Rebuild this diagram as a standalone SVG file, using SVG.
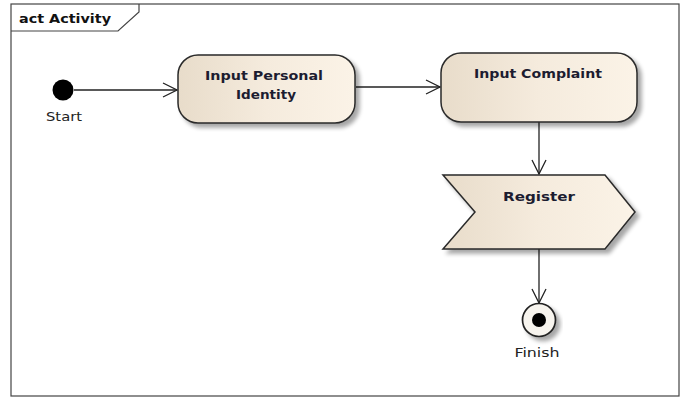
<svg xmlns="http://www.w3.org/2000/svg" width="685" height="402" viewBox="0 0 685 402">
<defs>
<linearGradient id="g" x1="0" y1="0" x2="1" y2="0">
<stop offset="0" stop-color="#e8dcca"/>
<stop offset="0.5" stop-color="#f5ebdd"/>
<stop offset="1" stop-color="#fbf3e7"/>
</linearGradient>
<filter id="sh" x="-10%" y="-10%" width="130%" height="140%">
<feGaussianBlur in="SourceAlpha" stdDeviation="2"/>
<feOffset dx="4" dy="4" result="b"/>
<feComponentTransfer><feFuncA type="linear" slope="0.35"/></feComponentTransfer>
<feMerge><feMergeNode/><feMergeNode in="SourceGraphic"/></feMerge>
</filter>
<marker id="arr" viewBox="0 0 16 16" refX="15" refY="8" markerWidth="16" markerHeight="16" markerUnits="userSpaceOnUse" orient="auto">
<path d="M1,1 L15,8 L1,15" fill="none" stroke="#222" stroke-width="1.3"/>
</marker>
</defs>
<style>
.t{font-family:"DejaVu Sans","Liberation Sans",sans-serif;font-weight:bold;font-size:13px;fill:#1c1c30;text-anchor:middle}
.l{font-family:"DejaVu Sans","Liberation Sans",sans-serif;font-size:13px;fill:#222;text-anchor:middle}
.n{fill:url(#g);stroke:#2a2a2a;stroke-width:1.5;filter:url(#sh)}
.c{stroke:#222;stroke-width:1.3;fill:none;marker-end:url(#arr)}
</style>
<rect width="685" height="402" fill="#fff"/>
<g id="frame">
<rect x="11" y="4" width="668" height="392" fill="#fff" stroke="#444" stroke-width="1.2"/>
<path d="M11,31 L118,31 L139,12 L139,4" fill="none" stroke="#444" stroke-width="1.2"/>
<text x="19" y="23" font-family="DejaVu Sans,Liberation Sans,sans-serif" font-weight="bold" font-size="13" fill="#111" textLength="92" lengthAdjust="spacingAndGlyphs">act Activity</text>
</g>
<g id="connectors">
<line class="c" x1="74" y1="90" x2="177" y2="90"/>
<line class="c" x1="356" y1="87" x2="440" y2="87"/>
<line class="c" x1="539" y1="122" x2="539" y2="174"/>
<line class="c" x1="539" y1="249" x2="539" y2="303"/>
</g>
<g id="start">
<circle cx="63" cy="90" r="10.5" fill="#000"/>
<text class="l" x="64" y="121" textLength="36" lengthAdjust="spacingAndGlyphs">Start</text>
</g>
<g id="input-personal-identity">
<rect class="n" x="178" y="55" width="177" height="68" rx="20"/>
<text class="t" x="264" y="80" textLength="118" lengthAdjust="spacingAndGlyphs">Input Personal</text>
<text class="t" x="266" y="99" textLength="60" lengthAdjust="spacingAndGlyphs">Identity</text>
</g>
<g id="input-complaint">
<rect class="n" x="441" y="53" width="196" height="69" rx="20"/>
<text class="t" x="538" y="78" textLength="128" lengthAdjust="spacingAndGlyphs">Input Complaint</text>
</g>
<g id="register">
<polygon class="n" points="443,175 605,175 635,212 605,249 443,249 475,212"/>
<text class="t" x="539" y="201" textLength="72" lengthAdjust="spacingAndGlyphs">Register</text>
</g>
<g id="finish">
<circle cx="539" cy="320" r="16.5" fill="#f7f4ee" stroke="#222" stroke-width="1.7" filter="url(#sh)"/>
<circle cx="539" cy="320" r="7" fill="#000"/>
<text class="l" x="537" y="357" textLength="45" lengthAdjust="spacingAndGlyphs">Finish</text>
</g>
</svg>
